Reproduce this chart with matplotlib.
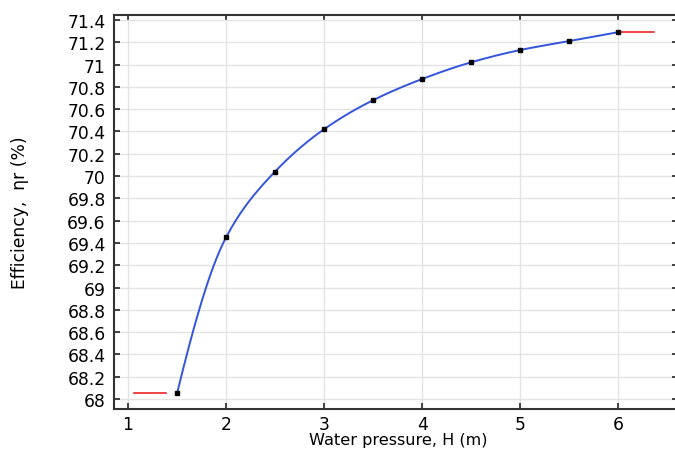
import numpy as np
import matplotlib
matplotlib.use("Agg")
import matplotlib.pyplot as plt

# Data
H = [1.5, 2.0, 2.5, 3.0, 3.5, 4.0, 4.5, 5.0, 5.5, 6.0]
eff = [68.05, 69.45, 70.04, 70.42, 70.68, 70.87, 71.02, 71.13, 71.21, 71.29]
xticks = [1, 2, 3, 4, 5, 6]
yticks = [68, 68.2, 68.4, 68.6, 68.8, 69, 69.2, 69.4, 69.6, 69.8, 70,
          70.2, 70.4, 70.6, 70.8, 71, 71.2, 71.4]
ytick_labels = ["68", "68.2", "68.4", "68.6", "68.8", "69", "69.2", "69.4", "69.6",
                "69.8", "70", "70.2", "70.4", "70.6", "70.8", "71", "71.2", "71.4"]
left_ext = [1.06, 1.39]
right_ext = [6.0, 6.43]


def pchip(x, y, xs):
    x = np.asarray(x, float); y = np.asarray(y, float)
    h = np.diff(x); d = np.diff(y) / h
    n = len(x)
    m = np.zeros(n)
    for i in range(1, n - 1):
        if d[i - 1] * d[i] <= 0:
            m[i] = 0
        else:
            w1 = 2 * h[i] + h[i - 1]; w2 = h[i] + 2 * h[i - 1]
            m[i] = (w1 + w2) / (w1 / d[i - 1] + w2 / d[i])

    def end(h0, h1, d0, d1):
        s = ((2 * h0 + h1) * d0 - h0 * d1) / (h0 + h1)
        if np.sign(s) != np.sign(d0):
            s = 0
        elif np.sign(d0) != np.sign(d1) and abs(s) > abs(3 * d0):
            s = 3 * d0
        return s
    m[0] = end(h[0], h[1], d[0], d[1])
    m[-1] = end(h[-1], h[-2], d[-1], d[-2])
    out = np.empty_like(xs)
    for k, xv in enumerate(xs):
        i = min(max(np.searchsorted(x, xv) - 1, 0), n - 2)
        t = (xv - x[i]) / h[i]
        h00 = 2 * t**3 - 3 * t**2 + 1; h10 = t**3 - 2 * t**2 + t
        h01 = -2 * t**3 + 3 * t**2; h11 = t**3 - t**2
        out[k] = h00 * y[i] + h10 * h[i] * m[i] + h01 * y[i + 1] + h11 * h[i] * m[i + 1]
    return out


fig = plt.figure(figsize=(6.75, 4.52), dpi=100)
ax = fig.add_axes([114 / 675, 1 - 410 / 452, (678 - 114) / 675, (410 - 16) / 452])

xs = np.linspace(H[0], H[-1], 400)
ax.plot(xs, pchip(H, eff, xs), color="#3355dd", lw=1.4, zorder=3)
ax.plot(H, eff, linestyle="none", marker="s", ms=3.5, color="black", zorder=4)
ax.plot(left_ext, [eff[0]] * 2, color="#ee2222", lw=1.2, zorder=3)
ax.plot(right_ext, [eff[-1]] * 2, color="#ee2222", lw=1.2, zorder=3,
        linestyle=(0, (22, 5.5)))

ax.set_xlim(0.857, 6.61)
ax.set_ylim(67.911, 71.444)
ax.set_xticks(xticks)
ax.set_yticks(yticks)
ax.set_yticklabels(ytick_labels)
ax.grid(True, color="#e3e3e3", lw=1)
ax.set_axisbelow(True)
ax.tick_params(direction="in", length=4, width=1.3, color="#333333",
               top=True, right=True, labelsize=12.3)
ax.tick_params(axis="x", pad=4.5)
ax.tick_params(axis="y", pad=6)
for s in ax.spines.values():
    s.set_color("#333333"); s.set_linewidth(1.5)

ax.set_xlabel("Water pressure, H (m)", fontsize=11.6)
ax.set_ylabel("Efficiency,  ηr (%)", fontsize=12.3)
ax.xaxis.set_label_coords((398 - 114) / 564, (410 - 433) / 394)
ax.yaxis.set_label_coords((29 - 114) / 564, 0.5)

fig.savefig("out.png", dpi=100)
